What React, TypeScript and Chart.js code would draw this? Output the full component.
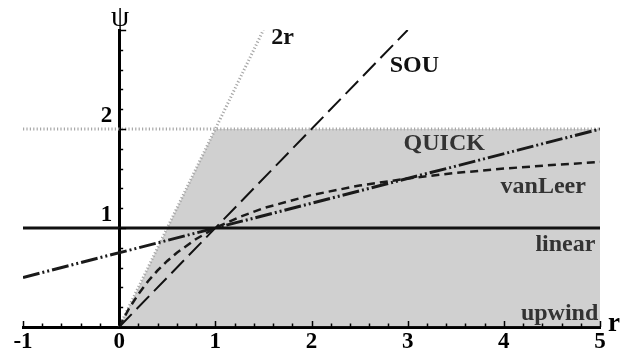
import React, { useEffect, useRef } from "react";
import { Chart, registerables } from "chart.js";

Chart.register(...registerables);

// ---- data ----
const xTickValues = [-1, 0, 1, 2, 3, 4, 5];
const yLabeledTicks = [1, 2];

const rRegion = [0, 1, 5];
const psiRegion = [0, 2, 2];

const r2r = [0, 1.5];
const psi2r = [0, 3];

const rLimit2 = [-1, 5];
const psiLimit2 = [2, 2];

const rSOU = [0, 3];
const psiSOU = [0, 3];

const rQUICK = [-1, 5];
const psiQUICK = [0.5, 2];

const rVanLeer = [0, 0.1, 0.2, 0.3, 0.4, 0.5, 0.6, 0.8, 1, 1.25, 1.5, 2, 2.5, 3, 3.5, 4, 4.5, 5];
const psiVanLeer = [0, 0.182, 0.333, 0.462, 0.571, 0.667, 0.75, 0.889, 1, 1.111, 1.2, 1.333, 1.429, 1.5, 1.556, 1.6, 1.636, 1.667];

const rLinear = [-1, 5];
const psiLinear = [1, 1];

const rUpwind = [0, 5];
const psiUpwind = [0, 0];

const labelTexts = ["2r", "SOU", "QUICK", "vanLeer", "linear", "upwind"];
const labelR = [1.7, 3.07, 3.38, 4.41, 4.64, 4.58];
const labelPsi = [2.92, 2.64, 1.85, 1.42, 0.83, 0.13];
const labelColors = ["#111111", "#111111", "#333333", "#333333", "#333333", "#333333"];

const pts = (xs: number[], ys: number[]) => xs.map((x, i) => ({ x, y: ys[i] }));

const SERIF = "'Liberation Serif', 'Times New Roman', serif";

export default function App() {
  const ref = useRef<HTMLCanvasElement | null>(null);

  useEffect(() => {
    document.body.style.margin = "0";
    const canvas = ref.current;
    if (!canvas) return;

    const overlay = {
      id: "overlay",
      afterDatasetsDraw(chart: any) {
        const ctx = chart.ctx;
        const xs = chart.scales.x;
        const ys = chart.scales.y;
        const area = chart.chartArea;
        const x0 = xs.getPixelForValue(0);
        const y0 = ys.getPixelForValue(0);
        ctx.save();
        ctx.strokeStyle = "#000";
        ctx.lineWidth = 1.5;
        ctx.setLineDash([]);
        // x ticks (inward / upward)
        for (let i = -5; i <= 25; i++) {
          const v = i / 5;
          const px = Math.round(xs.getPixelForValue(v)) + 0.5;
          const len = i % 5 === 0 ? 6 : 3.5;
          ctx.beginPath();
          ctx.moveTo(px, y0);
          ctx.lineTo(px, y0 - len);
          ctx.stroke();
        }
        // y ticks (inward / right)
        for (let i = 0; i <= 15; i++) {
          const v = i / 5;
          const py = Math.round(ys.getPixelForValue(v)) + 0.5;
          const len = i % 5 === 0 ? 7 : 4;
          ctx.beginPath();
          ctx.moveTo(x0, py);
          ctx.lineTo(x0 + len, py);
          ctx.stroke();
        }
        // y tick labels (left of the centred axis, raised above the tick)
        ctx.fillStyle = "#000";
        ctx.font = `bold 23px ${SERIF}`;
        ctx.textAlign = "right";
        ctx.textBaseline = "middle";
        yLabeledTicks.forEach((v) => {
          ctx.fillText(String(v), x0 - 7, ys.getPixelForValue(v) - 13);
        });
        // curve labels
        ctx.textAlign = "center";
        ctx.textBaseline = "middle";
        ctx.font = `bold 24px ${SERIF}`;
        labelTexts.forEach((t, i) => {
          ctx.fillStyle = labelColors[i];
          ctx.fillText(t, xs.getPixelForValue(labelR[i]), ys.getPixelForValue(labelPsi[i]));
        });
        // axis titles
        ctx.fillStyle = "#000";
        ctx.font = `29px ${SERIF}`;
        ctx.fillText("\u03C8", x0 + 1, area.top - 12);
        ctx.font = `bold 27px ${SERIF}`;
        ctx.fillText("r", area.right + 14, area.bottom - 3);
        ctx.restore();
      },
    };

    const lineBase = {
      showLine: true,
      pointRadius: 0,
      fill: false,
      tension: 0,
      borderCapStyle: "butt",
    };

    const chart = new Chart(canvas, {
      type: "scatter",
      data: {
        datasets: [
          {
            ...lineBase,
            label: "linear",
            data: pts(rLinear, psiLinear),
            borderColor: "#111111",
            borderWidth: 3,
            order: 1,
          },
          {
            ...lineBase,
            label: "QUICK",
            data: pts(rQUICK, psiQUICK),
            borderColor: "#1a1a1a",
            borderWidth: 3,
            borderDash: [17, 3, 2, 3, 2, 3],
            order: 2,
          },
          {
            ...lineBase,
            label: "vanLeer",
            data: pts(rVanLeer, psiVanLeer),
            borderColor: "#1a1a1a",
            borderWidth: 2.5,
            borderDash: [8, 5],
            order: 3,
          },
          {
            ...lineBase,
            label: "SOU",
            data: pts(rSOU, psiSOU),
            borderColor: "#111111",
            borderWidth: 2,
            borderDash: [18, 7],
            order: 4,
          },
          {
            ...lineBase,
            label: "upwind",
            data: pts(rUpwind, psiUpwind),
            borderColor: "#111111",
            borderWidth: 2,
            order: 5,
          },
          {
            ...lineBase,
            label: "2r",
            data: pts(r2r, psi2r),
            borderColor: "#a8a8a8",
            borderWidth: 3,
            borderDash: [1.2, 2.2],
            order: 6,
          },
          {
            ...lineBase,
            label: "psi=2",
            data: pts(rLimit2, psiLimit2),
            borderColor: "#a8a8a8",
            borderWidth: 3,
            borderDash: [1.2, 2.2],
            order: 7,
          },
          {
            ...lineBase,
            label: "TVD region",
            data: pts(rRegion, psiRegion),
            borderColor: "rgba(0,0,0,0)",
            borderWidth: 0,
            backgroundColor: "#d0d0d0",
            fill: "origin",
            order: 10,
          },
        ] as any,
      },
      options: {
        responsive: false,
        animation: false,
        layout: { padding: { left: 23, right: 30, top: 30, bottom: 0 } },
        plugins: {
          legend: { display: false },
          tooltip: { enabled: false },
          title: { display: false },
        },
        scales: {
          x: {
            type: "linear",
            position: "bottom",
            min: -1,
            max: 5,
            afterFit: (scale: any) => {
              scale.height = 31;
            },
            afterBuildTicks: (scale: any) => {
              scale.ticks = xTickValues.map((v) => ({ value: v }));
            },
            grid: { display: false, drawTicks: false },
            border: { display: true, color: "#000", width: 3 },
            ticks: {
              color: "#000",
              padding: 1,
              maxRotation: 0,
              autoSkip: false,
              font: { family: SERIF, weight: "bold", size: 23 },
              callback: (v: any) => String(v),
            },
          },
          y: {
            type: "linear",
            position: { x: 0 } as any,
            min: 0,
            max: 3,
            grid: { display: false, drawTicks: false },
            border: { display: true, color: "#000", width: 3 },
            ticks: { display: false },
          },
        },
      } as any,
      plugins: [overlay],
    });

    return () => chart.destroy();
  }, []);

  return (
    <div style={{ position: "fixed", left: 0, top: 0, width: 630, height: 358, background: "#fff" }}>
      <canvas ref={ref} width={630} height={358} style={{ width: 630, height: 358, display: "block" }} />
    </div>
  );
}
